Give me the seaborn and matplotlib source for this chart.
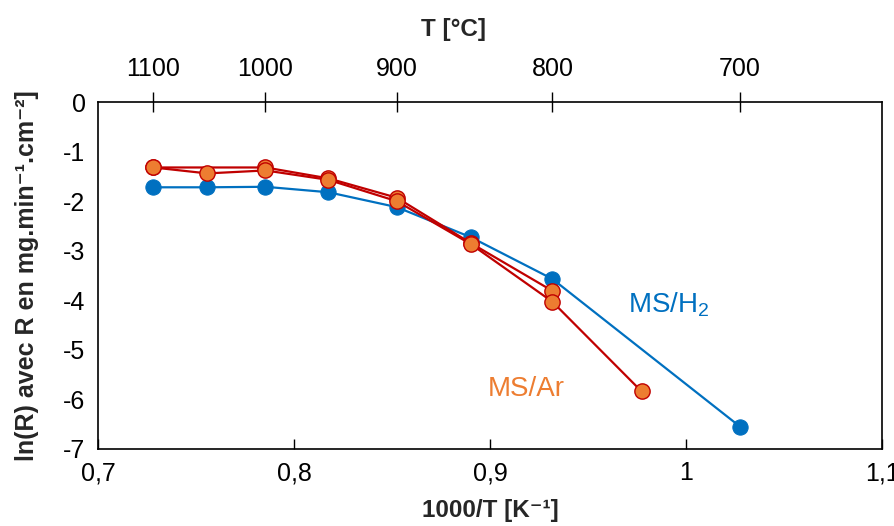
import numpy as np
import pandas as pd
import matplotlib
matplotlib.use("Agg")
import matplotlib.pyplot as plt
import seaborn as sns

# ---- data ----
T_h2 = [1100, 1050, 1000, 950, 900, 850, 800, 700]
lnR_h2 = [-1.72, -1.72, -1.71, -1.82, -2.12, -2.73, -3.57, -6.55]
T_ar1 = [1100, 1000, 950, 900, 850, 800]
lnR_ar1 = [-1.32, -1.32, -1.54, -1.93, -2.85, -3.81]
T_ar2 = [1100, 1050, 1000, 950, 900, 850, 800, 750]
lnR_ar2 = [-1.32, -1.44, -1.38, -1.57, -2.00, -2.87, -4.03, -5.84]
top_ticks_T = [1100, 1000, 900, 800, 700]
x_ticks = [0.7, 0.8, 0.9, 1.0, 1.1]
x_tick_labels = ["0,7", "0,8", "0,9", "1", "1,1"]
y_ticks = [0, -1, -2, -3, -4, -5, -6, -7]


def inv(T):
    return 1000.0 / (np.asarray(T, dtype=float) + 273.15)


df_h2 = pd.DataFrame({"x": inv(T_h2), "y": lnR_h2})
df_ar1 = pd.DataFrame({"x": inv(T_ar1), "y": lnR_ar1})
df_ar2 = pd.DataFrame({"x": inv(T_ar2), "y": lnR_ar2})

sns.set_theme(style="white")
plt.rcParams["font.family"] = ["Liberation Sans", "DejaVu Sans"]
plt.rcParams["axes.unicode_minus"] = False
plt.rcParams["mathtext.fontset"] = "custom"
plt.rcParams["mathtext.rm"] = "Liberation Sans"
plt.rcParams["mathtext.bf"] = "Liberation Sans:bold"

BLUE = "#0070C0"
ORANGE = "#ED7D31"
RED = "#C00000"

fig = plt.figure(figsize=(8.95, 5.26), dpi=100)
ax = fig.add_axes([0.1095, 0.1464, 0.876, 0.6596])

sns.lineplot(data=df_h2, x="x", y="y", ax=ax, color=BLUE, lw=1.6, marker="o",
             markersize=11, markeredgecolor=BLUE, markerfacecolor=BLUE, sort=False, zorder=3)
sns.lineplot(data=df_ar1, x="x", y="y", ax=ax, color=RED, lw=1.6, marker="o",
             markersize=11, markeredgecolor=RED, markeredgewidth=1.0,
             markerfacecolor=ORANGE, sort=False, zorder=4)
sns.lineplot(data=df_ar2, x="x", y="y", ax=ax, color=RED, lw=1.6, marker="o",
             markersize=11, markeredgecolor=RED, markeredgewidth=1.0,
             markerfacecolor=ORANGE, sort=False, zorder=5)

ax.set_xlim(0.7, 1.1)
ax.set_ylim(-7, 0)
ax.set_xticks(x_ticks)
ax.set_xticklabels(x_tick_labels)
ax.set_yticks(y_ticks)
ax.tick_params(axis="both", direction="in", length=7, width=1, labelsize=18,
               color="black", labelcolor="black")
ax.tick_params(axis="x", pad=9)
ax.tick_params(axis="y", pad=9)
ax.tick_params(axis="y", which="both", right=False)

for s in ax.spines.values():
    s.set_color("black")
    s.set_linewidth(1.2)

ax.set_xlabel("1000/T [K⁻¹]", fontsize=17.5, fontweight="bold")
ax.xaxis.set_label_coords(0.5, -0.145)
ax.set_ylabel("ln(R) avec R en mg.min⁻¹.cm⁻²]", fontsize=18,
              fontweight="bold")
ax.yaxis.set_label_coords(-0.075, 0.5)

# top axis (temperature)
ax2 = ax.twiny()
ax2.set_xlim(ax.get_xlim())
ax2.set_xticks(inv(top_ticks_T))
ax2.set_xticklabels([str(t) for t in top_ticks_T])
ax2.tick_params(axis="x", direction="inout", length=14, width=1, labelsize=18, pad=8,
                color="black", labelcolor="black")
ax2.set_xlabel("T [°C]", fontsize=17.5, fontweight="bold")
ax2.xaxis.set_label_coords(0.454, 1.19)
for s in ax2.spines.values():
    s.set_visible(False)

ax.text(0.9704, -4.25, "MS/H$_2$", color=BLUE, fontsize=20, transform=ax.transData)
ax.text(0.899, -5.93, "MS/Ar", color=ORANGE, fontsize=20, transform=ax.transData)

fig.savefig("out.png", dpi=100, facecolor="white")
